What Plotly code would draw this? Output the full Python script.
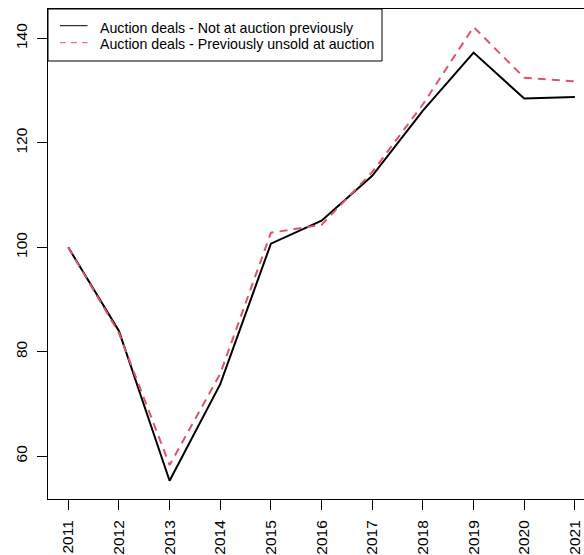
import plotly.graph_objects as go

years = [2011, 2012, 2013, 2014, 2015, 2016, 2017, 2018, 2019, 2020, 2021]
not_at_auction = [100.0, 84.0, 55.3, 73.8, 100.7, 105.1, 113.7, 126.2, 137.3, 128.5, 128.8]
prev_unsold = [100.0, 83.6, 58.3, 75.8, 102.8, 104.3, 114.4, 127.4, 142.2, 132.5, 131.8]
y_ticks = [60, 80, 100, 120, 140]

name_black = "Auction deals - Not at auction previously"
name_red = "Auction deals - Previously unsold at auction"
red = "#DF536B"
FONT = "Liberation Sans, Arial, Helvetica, sans-serif"

fig = go.Figure()
fig.add_trace(go.Scatter(x=years, y=not_at_auction, mode="lines", name=name_black,
                         line=dict(color="black", width=2), showlegend=False))
fig.add_trace(go.Scatter(x=years, y=prev_unsold, mode="lines", name=name_red,
                         line=dict(color=red, width=2, dash="8px,6px"), showlegend=False))

# legend drawn as in the original (box, thin sample lines, text)
W, H = 536.0, 490.0
def px_x(p):
    return (p - 48) / W
def px_y(p):
    return 1 - (p - 9) / H

shapes = [
    dict(type="rect", xref="paper", yref="paper", x0=0, x1=px_x(382), y0=px_y(61), y1=1,
         line=dict(color="black", width=1), fillcolor="white", layer="above"),
    dict(type="line", xref="paper", yref="paper", x0=px_x(60), x1=px_x(87.5),
         y0=px_y(25.7), y1=px_y(25.7), line=dict(color="black", width=1), layer="above"),
    dict(type="line", xref="paper", yref="paper", x0=px_x(60), x1=px_x(87.5),
         y0=px_y(42.7), y1=px_y(42.7), line=dict(color=red, width=1, dash="6px,5px"), layer="above"),
]
annotations = [
    dict(text=name_black, xref="paper", yref="paper", x=px_x(97.5), y=px_y(27.5),
         xanchor="left", yanchor="middle", showarrow=False, font=dict(size=14.2, family=FONT)),
    dict(text=name_red, xref="paper", yref="paper", x=px_x(97.5), y=px_y(44.5),
         xanchor="left", yanchor="middle", showarrow=False, font=dict(size=14.2, family=FONT)),
]

fig.update_layout(
    width=584, height=555,
    margin=dict(l=48, r=0, t=9, b=56),
    paper_bgcolor="white", plot_bgcolor="white",
    font=dict(family=FONT, size=15.5, color="black"),
    showlegend=False,
    shapes=shapes, annotations=annotations,
    xaxis=dict(range=[2010.6, 2021.18], tickmode="array", tickvals=years,
               ticktext=[str(y) for y in years], tickangle=-90,
               showgrid=False, zeroline=False, showline=True, mirror=True,
               linecolor="black", linewidth=1, ticks="outside", ticklen=10,
               tickcolor="black", ticklabelstandoff=4),
    yaxis=dict(range=[51.8, 145.65], tickmode="array", tickvals=y_ticks,
               tickangle=-90, showgrid=False, zeroline=False, showline=True,
               linecolor="black", linewidth=1, ticks="outside", ticklen=10,
               tickcolor="black", ticklabelstandoff=4),
)

fig.write_html("out.html", config={"displayModeBar": False},
               post_script="document.body.style.margin='0';document.body.style.overflow='hidden';")
